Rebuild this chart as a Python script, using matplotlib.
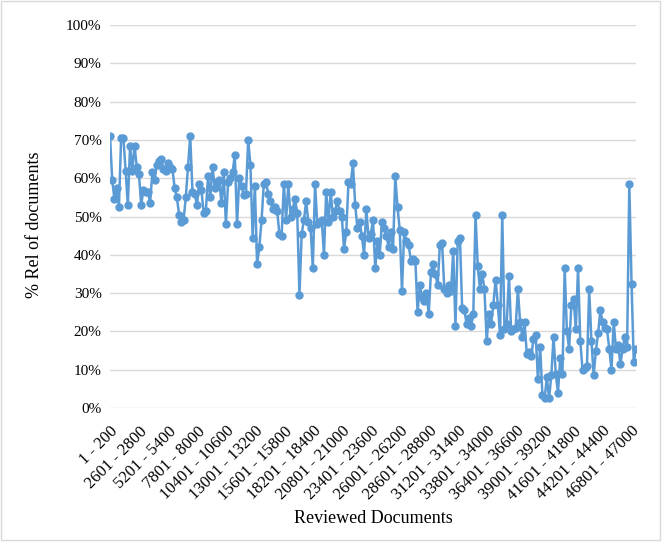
import matplotlib
matplotlib.use("Agg")
import matplotlib.pyplot as plt
from matplotlib.patches import Rectangle

# Relative % of documents per batch of 200 reviewed documents
rel_pct = [
    71, 59.5, 54.5, 57.5, 52.5, 70.5, 70.5, 62, 53, 68.5,
    62, 68.5, 63, 61, 53, 57, 56.5, 56.5, 53.5, 61.5,
    59.5, 63.5, 64.5, 65, 62.5, 62, 64, 63, 62.5, 57.5,
    55, 50.5, 48.5, 49, 55, 63, 71, 56.5, 56, 53,
    58.5, 57, 51, 51.5, 60.5, 55, 63, 57.5, 59, 59.5,
    53.5, 61.5, 48, 59, 60, 61.5, 66, 48, 60, 58,
    55.5, 56, 70, 63.5, 44.5, 58, 37.5, 42, 49, 58.5,
    59, 56, 54, 52, 52.5, 51.5, 45.5, 45, 58.5, 49,
    58.5, 50, 52, 54.5, 51, 29.5, 45.5, 49, 54, 48.5,
    47, 36.5, 58.5, 48, 48.5, 49, 40, 56.5, 48.5, 56.5,
    50, 51.5, 54, 51.5, 50, 41.5, 46, 59, 58.5, 64,
    53, 47, 48.5, 45, 40, 52, 44.5, 45.5, 49, 36.5,
    43.5, 40, 48.5, 47, 45, 42, 46, 41.5, 60.5, 52.5,
    46.5, 30.5, 46, 43.5, 42.5, 38.5, 39, 38.5, 25, 32,
    29, 28, 30, 24.5, 35.5, 37.5, 35, 32, 42.5, 43,
    31, 30, 32, 30.5, 41, 21.5, 43.5, 44.5, 26, 25.5,
    22, 23.5, 21.5, 24.5, 50.5, 37, 31, 35, 31, 17.5,
    24.5, 22, 27, 33.5, 27, 19, 50.5, 20.5, 22, 34.5,
    20, 20.5, 21, 31, 22.5, 18.5, 22.5, 14, 14.5, 13.5,
    18, 19, 7.5, 16, 3.5, 2.5, 8, 2.5, 8.5, 18.5,
    9, 4, 13, 9, 36.5, 20, 15.5, 27, 28.5, 20.5,
    36.5, 17.5, 10, 10.5, 11, 31, 17.5, 8.5, 15, 19.5,
    25.5, 22.5, 21, 20.5, 15.5, 10, 22.5, 15.5, 16.5, 11.5,
    15.5, 18.5, 16, 58.5, 32.5, 12, 15.5,
]

# Category labels that are displayed (every 13th batch)
tick_labels = [
    "1 - 200", "2601 - 2800", "5201 - 5400", "7801 - 8000",
    "10401 - 10600", "13001 - 13200", "15601 - 15800", "18201 - 18400",
    "20801 - 21000", "23401 - 23600", "26001 - 26200", "28601 - 28800",
    "31201 - 31400", "33801 - 34000", "36401 - 36600", "39001 - 39200",
    "41601 - 41800", "44201 - 44400", "46801 - 47000",
]
tick_step = 13

y_ticks = [0, 10, 20, 30, 40, 50, 60, 70, 80, 90, 100]

plt.rcParams["font.family"] = ["Liberation Serif", "DejaVu Serif"]

W, H = 670, 546
fig = plt.figure(figsize=(W / 100, H / 100), dpi=100)
ax = fig.add_axes([110 / W, 1 - 408 / H, (636 - 110) / W, (408 - 25) / H])

xs = list(range(len(rel_pct)))
ax.plot(xs, rel_pct, color="#5B9BD5", linewidth=1.8, marker="o",
        markersize=5, markerfacecolor="#5B9BD5", markeredgecolor="#5B9BD5",
        zorder=3)

ax.set_xlim(0, len(rel_pct) - 1)
ax.set_ylim(0, 100)
ax.set_yticks(y_ticks)
ax.set_yticklabels([f"{v}%" for v in y_ticks], fontsize=11)
ax.set_xticks([i * tick_step for i in range(len(tick_labels))])
ax.set_xticklabels(tick_labels, rotation=45, ha="right",
                   rotation_mode="anchor", fontsize=12)
ax.tick_params(axis="y", length=0, pad=6)
ax.tick_params(axis="x", length=0, pad=11)

ax.grid(axis="y", color="#D9D9D9", linewidth=1.0, zorder=0)
ax.set_axisbelow(True)
for s in ax.spines.values():
    s.set_visible(False)

ax.set_xlabel("Reviewed Documents", fontsize=13, labelpad=5)
ax.set_ylabel("% Rel of documents", fontsize=13)
ax.yaxis.set_label_coords(-0.128, 0.478)

# chart-area border
fig.patches.append(Rectangle((1 / W, 6 / H), 659 / W, 539 / H,
                             transform=fig.transFigure, fill=False,
                             edgecolor="#D9D9D9", linewidth=1.0))

fig.savefig("out.png", dpi=100)
